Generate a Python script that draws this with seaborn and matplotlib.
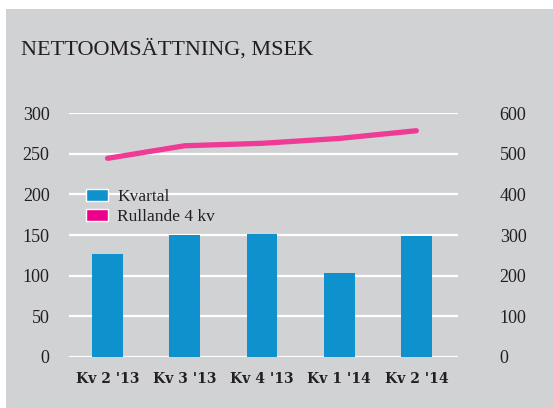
import numpy as np
import matplotlib
matplotlib.use("Agg")
import matplotlib.pyplot as plt
import seaborn as sns
from matplotlib.patches import Patch, Rectangle

# data
quarters = ["Kv 2 '13", "Kv 3 '13", "Kv 4 '13", "Kv 1 '14", "Kv 2 '14"]
kvartal = [127, 150, 151, 103, 149]
rullande = [489, 520, 526, 538, 557]

BG = "#d1d2d4"
BLUE = "#0f91ce"
PINK = "#ef3a96"
PINK_LEG = "#ec008c"
TXT = "#231f20"

sns.set_style("white")
plt.rcParams["font.family"] = ["Liberation Serif", "DejaVu Serif"]

fig = plt.figure(figsize=(5.53, 4.08), dpi=100, facecolor="white")
fig.patches.append(Rectangle((6 / 553, 0), 1, 1 - 9 / 408, transform=fig.transFigure,
                             facecolor=BG, edgecolor="none", zorder=-10))

ax = fig.add_axes([69 / 553, 1 - 356.7 / 408, 389 / 553, 243.4 / 408])
ax.set_facecolor("none")

sns.barplot(x=quarters, y=kvartal, ax=ax, color=BLUE, width=0.4, saturation=1,
            linewidth=0, zorder=3)

ax.set_ylim(0, 300)
ax.set_yticks(range(0, 301, 50))
ax.set_xlim(-0.5, 4.54)
ax.grid(axis="y", color="white", linewidth=1.6, zorder=0)
ax.set_axisbelow(True)
for s in ax.spines.values():
    s.set_visible(False)
ax.tick_params(axis="both", length=0, colors=TXT)
ax.tick_params(axis="y", labelsize=13, pad=14)
ax.tick_params(axis="x", pad=11)
for lab in ax.get_xticklabels():
    lab.set_fontfamily(["DejaVu Serif"])
    lab.set_fontweight("bold")
    lab.set_fontsize(10)
ax.set_xlabel("")
ax.set_ylabel("")

ax2 = ax.twinx()
sns.lineplot(x=quarters, y=rullande, ax=ax2, color=PINK, linewidth=3.8, sort=False,
             solid_capstyle="round", zorder=4)
ax2.set_ylim(0, 600)
ax2.set_yticks(range(0, 601, 100))
ax2.set_xlim(-0.5, 4.54)
for s in ax2.spines.values():
    s.set_visible(False)
ax2.tick_params(axis="y", length=0, labelsize=13, pad=30, colors=TXT)
ax2.set_ylabel("")

handles = [Patch(facecolor=BLUE, label="Kvartal"),
           Patch(facecolor=PINK_LEG, label="Rullande 4 kv")]
leg = ax2.legend(handles=handles, loc="upper left", bbox_to_anchor=(17 / 389, 0.69),
                 frameon=False, fontsize=12.5, handlelength=1.25, handleheight=0.75,
                 handletextpad=0.55, labelspacing=0.2, borderaxespad=0, borderpad=0)
for t in leg.get_texts():
    t.set_color(TXT)

fig.text(21 / 553, 1 - 55 / 408, "NETTOOMSÄTTNING, MSEK", fontsize=16,
         color=TXT, va="baseline", ha="left")

fig.savefig("out.png", dpi=100, facecolor="white")
